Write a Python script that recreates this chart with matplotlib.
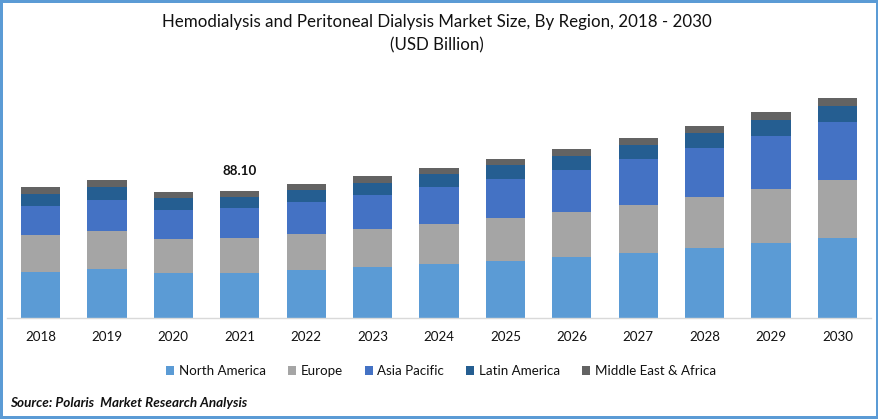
import matplotlib
matplotlib.use("Agg")
import matplotlib.pyplot as plt
import numpy as np

plt.rcParams['font.family'] = ['Lato', 'DejaVu Sans']

years = ['2018', '2019', '2020', '2021', '2022', '2023', '2024', '2025', '2026', '2027', '2028', '2029', '2030']
north_america = [31.9, 34.0, 31.2, 31.2, 33.3, 35.4, 37.5, 39.5, 42.3, 45.1, 48.6, 52.0, 55.5]
europe = [25.7, 26.4, 23.6, 24.3, 25.0, 26.4, 27.7, 29.8, 31.2, 33.3, 35.4, 37.5, 40.2]
asia_pacific = [20.1, 21.5, 20.1, 20.8, 22.2, 23.6, 25.7, 27.1, 29.1, 31.9, 34.0, 36.8, 40.2]
latin_america = [8.3, 9.0, 8.3, 7.6, 8.3, 8.3, 9.0, 9.7, 9.7, 9.7, 10.4, 11.1, 11.1]
mea = [4.9, 4.9, 4.2, 4.2, 4.2, 4.9, 4.2, 4.2, 4.9, 4.9, 4.9, 5.5, 5.5]
series_names = ['North America', 'Europe', 'Asia Pacific', 'Latin America', 'Middle East & Africa']
series_values = [north_america, europe, asia_pacific, latin_america, mea]
colors = ['#5b9bd5', '#a5a5a5', '#4472c4', '#255e91', '#636363']
label_year = '2021'
label_text = '88.10'

W, H = 879, 419
fig = plt.figure(figsize=(W / 100, H / 100), dpi=100, facecolor='white',
                 edgecolor='#5b9bd5', linewidth=2.9)
top_val = 160
base_px = 318
left_px, right_px = 7.3, 870.7
height_px = top_val * 127 / 88.1
ax = fig.add_axes([left_px / W, 1 - base_px / H, (right_px - left_px) / W, height_px / H])

x = np.arange(len(years))
bottom = np.zeros(len(years))
handles = []
for name, vals, c in zip(series_names, series_values, colors):
    b = ax.bar(x, vals, width=0.59, bottom=bottom, color=c, label=name, linewidth=0)
    handles.append(b)
    bottom += np.array(vals)

ax.set_xlim(-0.5, len(years) - 0.5)
ax.set_ylim(0, top_val)
ax.set_xticks(x)
ax.set_xticklabels(years, fontsize=9.6, color='#111111')
ax.tick_params(axis='x', length=0, pad=9.5)
ax.set_yticks([])
for s in ['top', 'left', 'right']:
    ax.spines[s].set_visible(False)
ax.spines['bottom'].set_color('#d9d9d9')
ax.spines['bottom'].set_linewidth(1.0)

i = years.index(label_year)
ax.annotate(label_text, (x[i], bottom[i]), xytext=(0, 14), textcoords='offset pixels',
            ha='center', va='bottom', fontsize=9.6, fontweight='bold', color='#111111')

fig.text(437 / W, 1 - 22 / H, 'Hemodialysis and Peritoneal Dialysis Market Size, By Region, 2018 - 2030',
         ha='center', va='center', fontsize=12.2, color='#111111')
fig.text(437 / W, 1 - 45 / H, '(USD Billion)', ha='center', va='center', fontsize=12.2, color='#111111')

fig.legend(handles=handles, labels=series_names, ncol=5, frameon=False,
           loc='center', bbox_to_anchor=(441 / W, 1 - 371 / H), fontsize=9.6,
           handlelength=0.6, handleheight=0.6, handletextpad=0.35, columnspacing=1.65,
           labelcolor='#111111')

fig.text(10 / W, 1 - 403 / H, 'Source: Polaris  Market Research Analysis', ha='left', va='center',
         fontsize=9.75, fontweight='bold', fontstyle='italic', color='#111111')

fig.savefig('out.png', dpi=100)
